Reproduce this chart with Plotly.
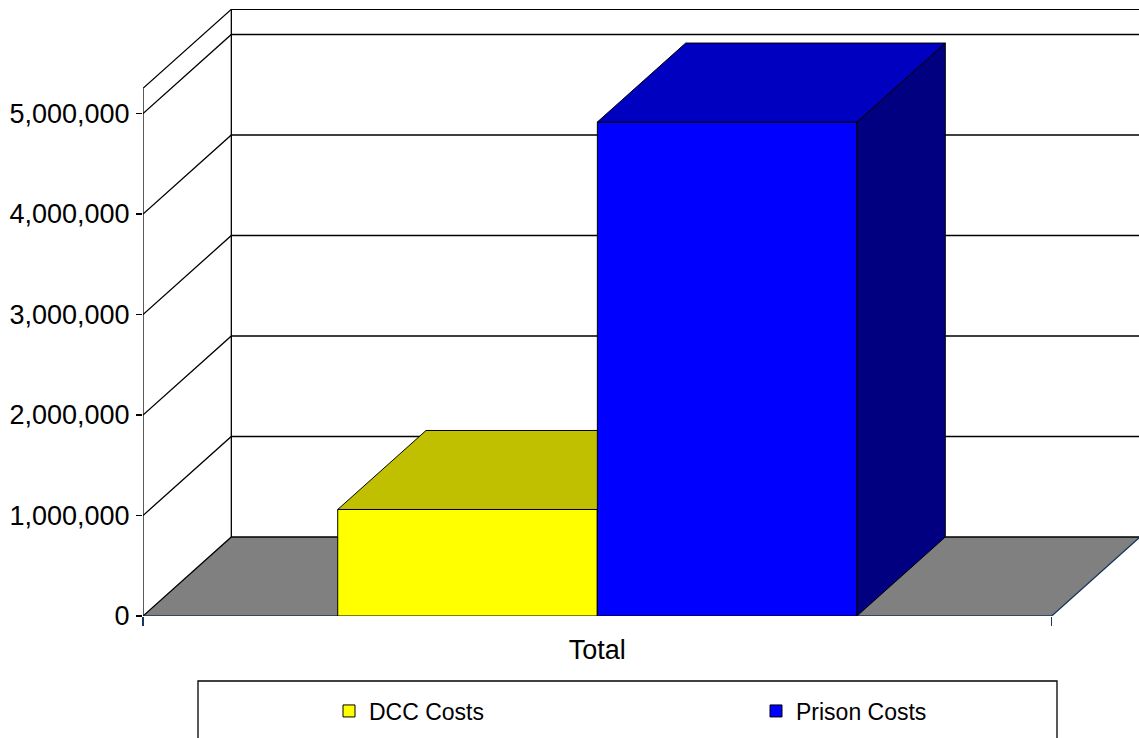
import plotly.graph_objects as go

# ---------------- data ----------------
categories = ["Total"]
series_names = ["DCC Costs", "Prison Costs"]
series_values = [1_060_000, 4_915_000]
y_tick_values = [0, 1_000_000, 2_000_000, 3_000_000, 4_000_000, 5_000_000]

# ---------------- styles ----------------
front_colors = ["#FFFF00", "#0000FF"]
top_colors = ["#C0C000", "#0000C0"]
side_colors = ["#808000", "#000080"]
FLOOR_COLOR = "#808080"
EDGE_NAVY = "#17375E"
FONT = "Liberation Sans, Arial, sans-serif"

WALL_TOP = 5_250_000          # height of the 3-D walls (value units)
GAP_WIDTH = 1.5               # Excel gap width (150 %)
DEPTH_X = 0.0972              # 3-D depth offset, x units (category = 1)
DEPTH_Y = 786_000             # 3-D depth offset, value units
X_RANGE = [0, 996 / 908.7]
Y_RANGE = [0, 607 / 100.5 * 1e6]

FIG_W, FIG_H = 1139, 738
M_L, M_T = 143, 9
M_B = FIG_H - M_T - 607


def px_x(p):
    """page pixel x -> paper fraction"""
    return (p - 143) / 996


def px_y(p):
    """page pixel y -> paper fraction"""
    return (616 - p) / 607


n = len(series_names)
bw = 1.0 / (n + GAP_WIDTH)
left_pad = GAP_WIDTH / 2 * bw

fig = go.Figure()

# ---------- floor ----------
fx = [0, 1, 1 + DEPTH_X, DEPTH_X, 0]
fy = [0, 0, DEPTH_Y, DEPTH_Y, 0]
fig.add_trace(go.Scatter(x=fx, y=fy, mode="lines", fill="toself",
                         fillcolor=FLOOR_COLOR, line=dict(width=0),
                         showlegend=False, hoverinfo="skip"))
# floor back + left edges (black)
fig.add_trace(go.Scatter(x=[0, DEPTH_X, 1 + DEPTH_X], y=[0, DEPTH_Y, DEPTH_Y],
                         mode="lines", line=dict(color="black", width=1.3),
                         showlegend=False, hoverinfo="skip"))
# floor front + right edges (navy)
fig.add_trace(go.Scatter(x=[0, 1, 1 + DEPTH_X], y=[0, 0, DEPTH_Y],
                         mode="lines", line=dict(color=EDGE_NAVY, width=1.3),
                         showlegend=False, hoverinfo="skip"))

# ---------- walls & gridlines ----------
gx, gy = [], []
for v in y_tick_values[1:] + [WALL_TOP]:
    gx += [0, DEPTH_X, 1 + DEPTH_X, None]
    gy += [v, v + DEPTH_Y, v + DEPTH_Y, None]
# back wall left vertical edge
gx += [DEPTH_X, DEPTH_X, None]
gy += [DEPTH_Y, WALL_TOP + DEPTH_Y, None]
# front left vertical edge
gx += [0, 0, None]
gy += [0, WALL_TOP, None]
fig.add_trace(go.Scatter(x=gx, y=gy, mode="lines",
                         line=dict(color="black", width=1.3),
                         showlegend=False, hoverinfo="skip"))

# ---------- bars (each on its own overlaid layer) ----------
for i, (name, val) in enumerate(zip(series_names, series_values)):
    xa, ya = f"x{i + 2}", f"y{i + 2}"
    x0 = left_pad + i * bw
    x1 = x0 + bw
    # side face
    fig.add_trace(go.Scatter(
        x=[x1, x1 + DEPTH_X, x1 + DEPTH_X, x1, x1],
        y=[0, DEPTH_Y, val + DEPTH_Y, val, 0],
        mode="lines", fill="toself", fillcolor=side_colors[i],
        line=dict(color="black", width=1), xaxis=xa, yaxis=ya,
        showlegend=False, hoverinfo="skip"))
    # top face
    fig.add_trace(go.Scatter(
        x=[x0, x1, x1 + DEPTH_X, x0 + DEPTH_X, x0],
        y=[val, val, val + DEPTH_Y, val + DEPTH_Y, val],
        mode="lines", fill="toself", fillcolor=top_colors[i],
        line=dict(color="black", width=1), xaxis=xa, yaxis=ya,
        showlegend=False, hoverinfo="skip"))
    # front face
    fig.add_trace(go.Bar(
        x=[(x0 + x1) / 2], y=[val], width=[bw], name=name,
        marker=dict(color=front_colors[i], line=dict(color="black", width=1)),
        xaxis=xa, yaxis=ya, hoverinfo="skip"))

axis_common = dict(range=X_RANGE, visible=False, fixedrange=True)
yaxis_common = dict(range=Y_RANGE, visible=False, fixedrange=True)

fig.update_layout(
    width=FIG_W, height=FIG_H,
    margin=dict(l=M_L, r=0, t=M_T, b=M_B, autoexpand=False),
    paper_bgcolor="white", plot_bgcolor="white",
    font=dict(family=FONT, color="black"),
    hovermode=False,
    xaxis=dict(range=X_RANGE, showgrid=False, zeroline=False, showline=False,
               tickmode="array", tickvals=[0.5], ticktext=categories,
               ticks="", tickfont=dict(size=27, family=FONT, color="black"),
               ticklabelstandoff=15,
               minor=dict(ticks="outside", ticklen=9, tickcolor=EDGE_NAVY,
                          tickwidth=1.3, tick0=0, dtick=1, showgrid=False),
               fixedrange=True, automargin=False),
    yaxis=dict(range=Y_RANGE, showgrid=False, zeroline=False, showline=False,
               tickmode="array", tickvals=y_tick_values, tickformat=",d",
               ticks="outside", ticklen=6, tickcolor="black", tickwidth=1.3,
               tickfont=dict(size=27, family=FONT, color="black"),
               ticklabelstandoff=1,
               fixedrange=True, automargin=False),
    xaxis2=dict(overlaying="x", **axis_common),
    yaxis2=dict(overlaying="y", **yaxis_common),
    xaxis3=dict(overlaying="x", **axis_common),
    yaxis3=dict(overlaying="y", **yaxis_common),
    showlegend=True,
    legend=dict(orientation="h", x=px_x(329), xanchor="left",
                y=px_y(711), yanchor="middle",
                font=dict(size=23, family=FONT, color="black"),
                entrywidth=382, entrywidthmode="pixels",
                bgcolor="rgba(0,0,0,0)", borderwidth=0,
                traceorder="normal"),
    shapes=[dict(type="rect", xref="paper", yref="paper",
                 x0=px_x(198), x1=px_x(1057),
                 y0=px_y(681), y1=px_y(760),
                 line=dict(color="black", width=1.3), fillcolor="rgba(0,0,0,0)",
                 layer="below")],
)

fig.write_html(
    "out.html",
    config={"displayModeBar": False, "staticPlot": True},
    post_script="document.body.style.margin='0';"
                "document.body.style.overflow='hidden';",
)
